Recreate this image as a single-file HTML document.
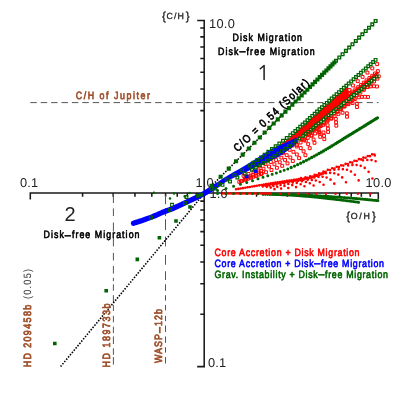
<!DOCTYPE html>
<html><head><meta charset="utf-8"><title>C/H vs O/H</title>
<style>
html,body{margin:0;padding:0;background:#fff;}
body{width:415px;height:415px;overflow:hidden;font-family:"Liberation Sans",sans-serif;}
svg{display:block;font-family:"Liberation Sans",sans-serif;will-change:transform;text-rendering:geometricPrecision;}
</style></head><body>
<svg width="415" height="415" viewBox="0 0 415 415">
<rect width="415" height="415" fill="#fff"/>
<path d="M30.3 199.6V192.9H378.3V199.6M197.2 20.4H204.2V366.6H197.2M82.58 192.9v3.9M204.2 314.19h-3.9M113.22 192.9v3.9M204.2 283.71h-3.9M134.96 192.9v3.9M204.2 262.08h-3.9M151.82 192.9v3.9M204.2 245.31h-3.9M165.6 192.9v3.9M204.2 231.6h-3.9M177.25 192.9v3.9M204.2 220.01h-3.9M187.34 192.9v3.9M204.2 209.98h-3.9M196.24 192.9v3.9M204.2 201.12h-3.9M256.58 192.9v3.9M204.2 141.09h-3.9M287.22 192.9v3.9M204.2 110.61h-3.9M308.96 192.9v3.9M204.2 88.98h-3.9M325.82 192.9v3.9M204.2 72.21h-3.9M339.6 192.9v3.9M204.2 58.5h-3.9M351.25 192.9v3.9M204.2 46.91h-3.9M361.34 192.9v3.9M204.2 36.88h-3.9M370.24 192.9v3.9M204.2 28.02h-3.9M204.2 192.9v7M204.2 193.3h-7" fill="none" stroke="#1a1a1a" stroke-width="1.55"/>
<text x="29" y="187" font-size="12.8" fill="#222" text-anchor="middle" textLength="18" lengthAdjust="spacing" >0.1</text>
<text x="204.5" y="187" font-size="12.8" fill="#222" text-anchor="middle" textLength="18" lengthAdjust="spacing" >1.0</text>
<text x="378.5" y="187" font-size="12.8" fill="#222" text-anchor="middle" textLength="25.8" lengthAdjust="spacing" >10.0</text>
<text x="209" y="28.3" font-size="12.8" fill="#222" textLength="25.8" lengthAdjust="spacing" >10.0</text>
<text x="209.5" y="197.5" font-size="12.8" fill="#222" textLength="18" lengthAdjust="spacing" >1.0</text>
<text x="208" y="367" font-size="12.8" fill="#222" textLength="18" lengthAdjust="spacing" >0.1</text>
<text x="162" y="20.3" font-size="11.6" fill="#222" stroke="#222" stroke-width="0.3">{<tspan font-size="8.8" dy="-0.9" dx="0.6" textLength="17.5" lengthAdjust="spacing">C/H</tspan><tspan dy="0.9" dx="0.6">}</tspan></text>
<text x="346.3" y="220.0" font-size="11.6" fill="#222" stroke="#222" stroke-width="0.3">{<tspan font-size="8.8" dy="-0.9" dx="0.6" textLength="19" lengthAdjust="spacing">O/H</tspan><tspan dy="0.9" dx="0.6">}</tspan></text>
<path d="M30.3 102.6H36.8M40.7 102.6H47.2M51.1 102.6H57.6M61.5 102.6H68M71.9 102.6H78.4M82.3 102.6H88.8M92.7 102.6H99.2M103.1 102.6H109.6M113.5 102.6H120M123.9 102.6H130.4M134.3 102.6H140.8M144.7 102.6H151.2M155.1 102.6H161.6M165.5 102.6H172M175.9 102.6H182.4M186.3 102.6H192.8M196.7 102.6H203.2M204 102.6H210.2M215.2 102.6H221.4M226.2 102.6H232.4M237 102.6H243.2M247.7 102.6H253.9M258 102.6H264.2M268.2 102.6H274.4M278.4 102.6H284.6M288.2 102.6H294.4M297.8 102.6H304M307.3 102.6H313.5M317.2 102.6H323.4M327 102.6H333.2M336.8 102.6H343M346.5 102.6H352.7M356.2 102.6H362.4M366.7 102.6H372.9M376.8 102.6H378.5" stroke="#555" stroke-width="1" fill="none"/>
<path d="M113.4 193.9V203M113.4 208.4V216M113.4 222.5V231.6M113.4 238V246.4M113.4 252.9V260.5M113.4 265.9V273.5M113.4 277.8V281M113.4 284.3V290.8M113.4 295.2V302.8M113.4 304.9V311M113.4 315.8V322.3M113.4 326.6V333.1M113.4 336.4V344M113.4 348.3V354.8M113.4 357V364.6" stroke="#555" stroke-width="1" fill="none"/>
<path d="M165.5 195.4V204.1M165.5 208V216M165.5 219.3V230.1M165.5 236.6V246.4M165.5 255V264.8M165.5 271.3V280M165.5 284.3V290.8M165.5 295.2V300.6M165.5 304.9V310.4M165.5 315.8V321.2M165.5 325.5V332M165.5 336.4V342.9M165.5 347.2V352.6M165.5 357V363.5" stroke="#555" stroke-width="1" fill="none"/>
<path d="M60.6 366.6L204.5 193" fill="none" stroke="#000000" stroke-width="1.6" stroke-dasharray="1.5 1.45"/>
<path d="M204.5 193L300 97" fill="none" stroke="#000000" stroke-width="1.6" stroke-dasharray="1.5 1.45"/>
<path d="M234.7 189.3a1.3 1.3 0 1 0 2.6 0a1.3 1.3 0 1 0 -2.6 0zM237.02 188.9a1.3 1.3 0 1 0 2.6 0a1.3 1.3 0 1 0 -2.6 0zM239.33 188.51a1.3 1.3 0 1 0 2.6 0a1.3 1.3 0 1 0 -2.6 0zM241.65 188.11a1.3 1.3 0 1 0 2.6 0a1.3 1.3 0 1 0 -2.6 0zM243.97 187.72a1.3 1.3 0 1 0 2.6 0a1.3 1.3 0 1 0 -2.6 0zM246.28 187.32a1.3 1.3 0 1 0 2.6 0a1.3 1.3 0 1 0 -2.6 0zM248.6 186.93a1.3 1.3 0 1 0 2.6 0a1.3 1.3 0 1 0 -2.6 0zM250.92 186.53a1.3 1.3 0 1 0 2.6 0a1.3 1.3 0 1 0 -2.6 0zM253.23 186.14a1.3 1.3 0 1 0 2.6 0a1.3 1.3 0 1 0 -2.6 0zM255.55 185.74a1.3 1.3 0 1 0 2.6 0a1.3 1.3 0 1 0 -2.6 0zM257.87 185.35a1.3 1.3 0 1 0 2.6 0a1.3 1.3 0 1 0 -2.6 0zM260.18 184.95a1.3 1.3 0 1 0 2.6 0a1.3 1.3 0 1 0 -2.6 0zM262.5 184.56a1.3 1.3 0 1 0 2.6 0a1.3 1.3 0 1 0 -2.6 0zM264.81 184.16a1.3 1.3 0 1 0 2.6 0a1.3 1.3 0 1 0 -2.6 0zM267.13 183.77a1.3 1.3 0 1 0 2.6 0a1.3 1.3 0 1 0 -2.6 0zM269.45 183.37a1.3 1.3 0 1 0 2.6 0a1.3 1.3 0 1 0 -2.6 0zM271.77 182.99a1.3 1.3 0 1 0 2.6 0a1.3 1.3 0 1 0 -2.6 0zM274.09 182.63a1.3 1.3 0 1 0 2.6 0a1.3 1.3 0 1 0 -2.6 0zM276.41 182.27a1.3 1.3 0 1 0 2.6 0a1.3 1.3 0 1 0 -2.6 0zM278.74 181.93a1.3 1.3 0 1 0 2.6 0a1.3 1.3 0 1 0 -2.6 0zM281.06 181.58a1.3 1.3 0 1 0 2.6 0a1.3 1.3 0 1 0 -2.6 0zM283.39 181.24a1.3 1.3 0 1 0 2.6 0a1.3 1.3 0 1 0 -2.6 0zM285.71 180.9a1.3 1.3 0 1 0 2.6 0a1.3 1.3 0 1 0 -2.6 0zM288.03 180.55a1.3 1.3 0 1 0 2.6 0a1.3 1.3 0 1 0 -2.6 0zM290.36 180.2a1.3 1.3 0 1 0 2.6 0a1.3 1.3 0 1 0 -2.6 0zM292.68 179.83a1.3 1.3 0 1 0 2.6 0a1.3 1.3 0 1 0 -2.6 0zM295 179.45a1.3 1.3 0 1 0 2.6 0a1.3 1.3 0 1 0 -2.6 0zM297.31 179.05a1.3 1.3 0 1 0 2.6 0a1.3 1.3 0 1 0 -2.6 0zM299.63 178.17a1.3 1.3 0 1 0 2.6 0a1.3 1.3 0 1 0 -2.6 0zM301.93 178.73a1.3 1.3 0 1 0 2.6 0a1.3 1.3 0 1 0 -2.6 0zM304.23 177.26a1.3 1.3 0 1 0 2.6 0a1.3 1.3 0 1 0 -2.6 0zM306.53 177.76a1.3 1.3 0 1 0 2.6 0a1.3 1.3 0 1 0 -2.6 0zM308.82 176.22a1.3 1.3 0 1 0 2.6 0a1.3 1.3 0 1 0 -2.6 0zM311.09 176.61a1.3 1.3 0 1 0 2.6 0a1.3 1.3 0 1 0 -2.6 0zM313.33 174.9a1.3 1.3 0 1 0 2.6 0a1.3 1.3 0 1 0 -2.6 0zM315.54 175.12a1.3 1.3 0 1 0 2.6 0a1.3 1.3 0 1 0 -2.6 0zM317.74 173.29a1.3 1.3 0 1 0 2.6 0a1.3 1.3 0 1 0 -2.6 0zM319.93 173.43a1.3 1.3 0 1 0 2.6 0a1.3 1.3 0 1 0 -2.6 0zM322.11 171.55a1.3 1.3 0 1 0 2.6 0a1.3 1.3 0 1 0 -2.6 0zM324.3 171.69a1.3 1.3 0 1 0 2.6 0a1.3 1.3 0 1 0 -2.6 0zM326.49 169.85a1.3 1.3 0 1 0 2.6 0a1.3 1.3 0 1 0 -2.6 0zM328.7 170.05a1.3 1.3 0 1 0 2.6 0a1.3 1.3 0 1 0 -2.6 0zM330.92 168.29a1.3 1.3 0 1 0 2.6 0a1.3 1.3 0 1 0 -2.6 0zM333.15 168.55a1.3 1.3 0 1 0 2.6 0a1.3 1.3 0 1 0 -2.6 0zM335.39 166.81a1.3 1.3 0 1 0 2.6 0a1.3 1.3 0 1 0 -2.6 0zM337.62 167.08a1.3 1.3 0 1 0 2.6 0a1.3 1.3 0 1 0 -2.6 0zM339.85 165.35a1.3 1.3 0 1 0 2.6 0a1.3 1.3 0 1 0 -2.6 0zM342.08 165.6a1.3 1.3 0 1 0 2.6 0a1.3 1.3 0 1 0 -2.6 0zM344.3 163.84a1.3 1.3 0 1 0 2.6 0a1.3 1.3 0 1 0 -2.6 0zM346.52 164.07a1.3 1.3 0 1 0 2.6 0a1.3 1.3 0 1 0 -2.6 0zM348.74 162.3a1.3 1.3 0 1 0 2.6 0a1.3 1.3 0 1 0 -2.6 0zM350.96 162.53a1.3 1.3 0 1 0 2.6 0a1.3 1.3 0 1 0 -2.6 0zM353.18 160.75a1.3 1.3 0 1 0 2.6 0a1.3 1.3 0 1 0 -2.6 0zM355.39 160.96a1.3 1.3 0 1 0 2.6 0a1.3 1.3 0 1 0 -2.6 0zM357.61 159.17a1.3 1.3 0 1 0 2.6 0a1.3 1.3 0 1 0 -2.6 0zM359.82 159.38a1.3 1.3 0 1 0 2.6 0a1.3 1.3 0 1 0 -2.6 0zM362.03 157.58a1.3 1.3 0 1 0 2.6 0a1.3 1.3 0 1 0 -2.6 0zM364.24 157.78a1.3 1.3 0 1 0 2.6 0a1.3 1.3 0 1 0 -2.6 0zM366.45 155.97a1.3 1.3 0 1 0 2.6 0a1.3 1.3 0 1 0 -2.6 0zM368.65 156.16a1.3 1.3 0 1 0 2.6 0a1.3 1.3 0 1 0 -2.6 0zM370.86 154.34a1.3 1.3 0 1 0 2.6 0a1.3 1.3 0 1 0 -2.6 0zM373.06 154.52a1.3 1.3 0 1 0 2.6 0a1.3 1.3 0 1 0 -2.6 0zM261.82 185.76a1.3 1.3 0 1 0 2.6 0a1.3 1.3 0 1 0 -2.6 0zM263.99 185.39a1.3 1.3 0 1 0 2.6 0a1.3 1.3 0 1 0 -2.6 0zM266.16 185.02a1.3 1.3 0 1 0 2.6 0a1.3 1.3 0 1 0 -2.6 0zM268.33 184.65a1.3 1.3 0 1 0 2.6 0a1.3 1.3 0 1 0 -2.6 0zM270.5 184.28a1.3 1.3 0 1 0 2.6 0a1.3 1.3 0 1 0 -2.6 0zM272.67 183.92a1.3 1.3 0 1 0 2.6 0a1.3 1.3 0 1 0 -2.6 0zM274.84 183.58a1.3 1.3 0 1 0 2.6 0a1.3 1.3 0 1 0 -2.6 0zM277.02 183.25a1.3 1.3 0 1 0 2.6 0a1.3 1.3 0 1 0 -2.6 0zM279.19 182.92a1.3 1.3 0 1 0 2.6 0a1.3 1.3 0 1 0 -2.6 0zM281.37 182.6a1.3 1.3 0 1 0 2.6 0a1.3 1.3 0 1 0 -2.6 0zM283.55 182.28a1.3 1.3 0 1 0 2.6 0a1.3 1.3 0 1 0 -2.6 0zM285.72 181.96a1.3 1.3 0 1 0 2.6 0a1.3 1.3 0 1 0 -2.6 0zM287.9 181.64a1.3 1.3 0 1 0 2.6 0a1.3 1.3 0 1 0 -2.6 0zM290.07 181.31a1.3 1.3 0 1 0 2.6 0a1.3 1.3 0 1 0 -2.6 0zM292.25 180.97a1.3 1.3 0 1 0 2.6 0a1.3 1.3 0 1 0 -2.6 0zM294.42 180.62a1.3 1.3 0 1 0 2.6 0a1.3 1.3 0 1 0 -2.6 0zM296.59 180.26a1.3 1.3 0 1 0 2.6 0a1.3 1.3 0 1 0 -2.6 0zM298.76 179.88a1.3 1.3 0 1 0 2.6 0a1.3 1.3 0 1 0 -2.6 0zM300.92 179.49a1.3 1.3 0 1 0 2.6 0a1.3 1.3 0 1 0 -2.6 0zM303.08 179.07a1.3 1.3 0 1 0 2.6 0a1.3 1.3 0 1 0 -2.6 0zM305.24 178.63a1.3 1.3 0 1 0 2.6 0a1.3 1.3 0 1 0 -2.6 0zM307.39 178.16a1.3 1.3 0 1 0 2.6 0a1.3 1.3 0 1 0 -2.6 0zM309.53 177.66a1.3 1.3 0 1 0 2.6 0a1.3 1.3 0 1 0 -2.6 0zM311.66 177.11a1.3 1.3 0 1 0 2.6 0a1.3 1.3 0 1 0 -2.6 0zM313.76 176.47a1.3 1.3 0 1 0 2.6 0a1.3 1.3 0 1 0 -2.6 0zM315.84 175.76a1.3 1.3 0 1 0 2.6 0a1.3 1.3 0 1 0 -2.6 0zM317.91 175a1.3 1.3 0 1 0 2.6 0a1.3 1.3 0 1 0 -2.6 0zM319.96 174.2a1.3 1.3 0 1 0 2.6 0a1.3 1.3 0 1 0 -2.6 0zM322 173.39a1.3 1.3 0 1 0 2.6 0a1.3 1.3 0 1 0 -2.6 0zM324.05 172.57a1.3 1.3 0 1 0 2.6 0a1.3 1.3 0 1 0 -2.6 0zM273.2 189.16a1.3 1.3 0 1 0 2.6 0a1.3 1.3 0 1 0 -2.6 0zM269.4 187.6a1.3 1.3 0 1 0 2.6 0a1.3 1.3 0 1 0 -2.6 0zM265.5 186.83a1.3 1.3 0 1 0 2.6 0a1.3 1.3 0 1 0 -2.6 0zM261.5 186.56a1.3 1.3 0 1 0 2.6 0a1.3 1.3 0 1 0 -2.6 0zM279.8 188.59a1.3 1.3 0 1 0 2.6 0a1.3 1.3 0 1 0 -2.6 0zM276 186.84a1.3 1.3 0 1 0 2.6 0a1.3 1.3 0 1 0 -2.6 0zM272.1 185.91a1.3 1.3 0 1 0 2.6 0a1.3 1.3 0 1 0 -2.6 0zM268.1 185.56a1.3 1.3 0 1 0 2.6 0a1.3 1.3 0 1 0 -2.6 0zM286.96 187.97a1.3 1.3 0 1 0 2.6 0a1.3 1.3 0 1 0 -2.6 0zM283.16 186.07a1.3 1.3 0 1 0 2.6 0a1.3 1.3 0 1 0 -2.6 0zM279.26 185.01a1.3 1.3 0 1 0 2.6 0a1.3 1.3 0 1 0 -2.6 0zM275.26 184.53a1.3 1.3 0 1 0 2.6 0a1.3 1.3 0 1 0 -2.6 0zM294.73 187.09a1.3 1.3 0 1 0 2.6 0a1.3 1.3 0 1 0 -2.6 0zM290.93 185.12a1.3 1.3 0 1 0 2.6 0a1.3 1.3 0 1 0 -2.6 0zM287.03 184.01a1.3 1.3 0 1 0 2.6 0a1.3 1.3 0 1 0 -2.6 0zM283.03 183.48a1.3 1.3 0 1 0 2.6 0a1.3 1.3 0 1 0 -2.6 0zM303.16 186.27a1.3 1.3 0 1 0 2.6 0a1.3 1.3 0 1 0 -2.6 0zM299.36 184.18a1.3 1.3 0 1 0 2.6 0a1.3 1.3 0 1 0 -2.6 0zM295.46 183a1.3 1.3 0 1 0 2.6 0a1.3 1.3 0 1 0 -2.6 0zM291.46 182.42a1.3 1.3 0 1 0 2.6 0a1.3 1.3 0 1 0 -2.6 0zM312.31 185.55a1.3 1.3 0 1 0 2.6 0a1.3 1.3 0 1 0 -2.6 0zM308.51 183.26a1.3 1.3 0 1 0 2.6 0a1.3 1.3 0 1 0 -2.6 0zM304.61 181.93a1.3 1.3 0 1 0 2.6 0a1.3 1.3 0 1 0 -2.6 0zM300.61 181.28a1.3 1.3 0 1 0 2.6 0a1.3 1.3 0 1 0 -2.6 0zM296.51 181.06a1.3 1.3 0 1 0 2.6 0a1.3 1.3 0 1 0 -2.6 0zM322.23 184.77a1.3 1.3 0 1 0 2.6 0a1.3 1.3 0 1 0 -2.6 0zM318.43 181.93a1.3 1.3 0 1 0 2.6 0a1.3 1.3 0 1 0 -2.6 0zM314.53 180.52a1.3 1.3 0 1 0 2.6 0a1.3 1.3 0 1 0 -2.6 0zM310.53 179.9a1.3 1.3 0 1 0 2.6 0a1.3 1.3 0 1 0 -2.6 0zM306.43 179.66a1.3 1.3 0 1 0 2.6 0a1.3 1.3 0 1 0 -2.6 0zM302.23 179.72a1.3 1.3 0 1 0 2.6 0a1.3 1.3 0 1 0 -2.6 0zM333 183.66a1.3 1.3 0 1 0 2.6 0a1.3 1.3 0 1 0 -2.6 0zM329.2 179.63a1.3 1.3 0 1 0 2.6 0a1.3 1.3 0 1 0 -2.6 0zM325.3 177.55a1.3 1.3 0 1 0 2.6 0a1.3 1.3 0 1 0 -2.6 0zM321.3 176.82a1.3 1.3 0 1 0 2.6 0a1.3 1.3 0 1 0 -2.6 0zM317.2 176.91a1.3 1.3 0 1 0 2.6 0a1.3 1.3 0 1 0 -2.6 0zM313 177.41a1.3 1.3 0 1 0 2.6 0a1.3 1.3 0 1 0 -2.6 0zM344.68 182.23a1.3 1.3 0 1 0 2.6 0a1.3 1.3 0 1 0 -2.6 0zM340.88 177.38a1.3 1.3 0 1 0 2.6 0a1.3 1.3 0 1 0 -2.6 0zM336.98 174.61a1.3 1.3 0 1 0 2.6 0a1.3 1.3 0 1 0 -2.6 0zM332.98 173.25a1.3 1.3 0 1 0 2.6 0a1.3 1.3 0 1 0 -2.6 0zM328.88 172.87a1.3 1.3 0 1 0 2.6 0a1.3 1.3 0 1 0 -2.6 0zM324.68 173.25a1.3 1.3 0 1 0 2.6 0a1.3 1.3 0 1 0 -2.6 0zM357.36 180.4a1.3 1.3 0 1 0 2.6 0a1.3 1.3 0 1 0 -2.6 0zM353.56 174.71a1.3 1.3 0 1 0 2.6 0a1.3 1.3 0 1 0 -2.6 0zM349.66 171.44a1.3 1.3 0 1 0 2.6 0a1.3 1.3 0 1 0 -2.6 0zM345.66 169.77a1.3 1.3 0 1 0 2.6 0a1.3 1.3 0 1 0 -2.6 0zM341.56 169.15a1.3 1.3 0 1 0 2.6 0a1.3 1.3 0 1 0 -2.6 0zM337.36 169.21a1.3 1.3 0 1 0 2.6 0a1.3 1.3 0 1 0 -2.6 0zM333.06 169.74a1.3 1.3 0 1 0 2.6 0a1.3 1.3 0 1 0 -2.6 0zM371.11 178.54a1.3 1.3 0 1 0 2.6 0a1.3 1.3 0 1 0 -2.6 0zM367.31 171.84a1.3 1.3 0 1 0 2.6 0a1.3 1.3 0 1 0 -2.6 0zM363.41 167.92a1.3 1.3 0 1 0 2.6 0a1.3 1.3 0 1 0 -2.6 0zM359.41 165.83a1.3 1.3 0 1 0 2.6 0a1.3 1.3 0 1 0 -2.6 0zM355.31 164.97a1.3 1.3 0 1 0 2.6 0a1.3 1.3 0 1 0 -2.6 0zM351.11 164.91a1.3 1.3 0 1 0 2.6 0a1.3 1.3 0 1 0 -2.6 0zM346.81 165.39a1.3 1.3 0 1 0 2.6 0a1.3 1.3 0 1 0 -2.6 0zM374.33 161.22a1.3 1.3 0 1 0 2.6 0a1.3 1.3 0 1 0 -2.6 0zM370.23 160.12a1.3 1.3 0 1 0 2.6 0a1.3 1.3 0 1 0 -2.6 0zM366.03 159.94a1.3 1.3 0 1 0 2.6 0a1.3 1.3 0 1 0 -2.6 0zM361.73 160.36a1.3 1.3 0 1 0 2.6 0a1.3 1.3 0 1 0 -2.6 0zM373.53 155.44a1.3 1.3 0 1 0 2.6 0a1.3 1.3 0 1 0 -2.6 0z" fill="#ff0000"/>
<path d="M266 155.28L268.1 153.69L270.21 152.1L272.31 150.51L274.41 148.92L276.51 147.33L278.62 145.76L280.72 144.21L282.82 142.7L284.92 141.18L287.03 139.58L289.13 137.91L291.23 136.19L293.33 134.43L295.44 132.63L297.54 130.8L299.64 128.95L301.74 127.08L303.85 125.19L305.95 123.28L308.05 121.37L310.15 119.46L312.26 117.55L314.36 115.64L316.46 113.75L318.56 111.87L320.67 110.01L322.77 108.16L324.87 106.3L326.97 104.45L329.08 102.59L331.18 100.73L333.28 98.87L335.38 97.01L337.49 95.15L339.59 93.29L341.69 91.43L343.79 89.58L345.9 87.72L348 85.86L348 98.84L345.9 100.51L343.79 102.18L341.69 103.85L339.59 105.53L337.49 107.21L335.38 108.9L333.28 110.59L331.18 112.28L329.08 113.97L326.97 115.67L324.87 117.36L322.77 119.06L320.67 120.75L318.56 122.45L316.46 124.14L314.36 125.86L312.26 127.58L310.15 129.31L308.05 131.02L305.95 132.71L303.85 134.37L301.74 136L299.64 137.58L297.54 139.14L295.44 140.67L293.33 142.19L291.23 143.7L289.13 145.2L287.03 146.7L284.92 148.18L282.82 149.62L280.72 151.01L278.62 152.37L276.51 153.7L274.41 155.03L272.31 156.36L270.21 157.7L268.1 159.04L266 160.38z" fill="#ff0000"/>
<path d="M340 102.9L342.53 100.88L345.07 98.87L347.6 96.86L350.13 94.86L352.67 92.85L355.2 90.84L357.73 88.83L360.27 86.8L362.8 84.76L365.33 82.7L367.87 80.64L370.4 78.56L372.93 76.48L375.47 74.38L378 72.28" fill="none" stroke="#ff0000" stroke-width="2.6" />
<path d="M298.55 130.6h2.9v2.9h-2.9zM301.15 128.44h2.9v2.9h-2.9zM303.75 126.23h2.9v2.9h-2.9zM306.35 123.99h2.9v2.9h-2.9zM308.95 121.74h2.9v2.9h-2.9zM311.55 119.48h2.9v2.9h-2.9zM314.15 117.23h2.9v2.9h-2.9zM316.75 115h2.9v2.9h-2.9zM319.35 112.8h2.9v2.9h-2.9zM321.95 110.59h2.9v2.9h-2.9zM324.55 108.39h2.9v2.9h-2.9zM327.15 106.18h2.9v2.9h-2.9zM329.75 103.98h2.9v2.9h-2.9zM332.35 101.77h2.9v2.9h-2.9zM334.95 99.57h2.9v2.9h-2.9zM337.55 97.36h2.9v2.9h-2.9zM340.15 95.16h2.9v2.9h-2.9zM342.75 92.97h2.9v2.9h-2.9zM345.35 90.78h2.9v2.9h-2.9zM347.95 88.59h2.9v2.9h-2.9zM351.45 83.99h2.9v2.9h-2.9zM356.3 79.72h2.9v2.9h-2.9zM361.15 75.45h2.9v2.9h-2.9zM366 71.18h2.9v2.9h-2.9zM370.85 66.92h2.9v2.9h-2.9zM375.7 62.66h2.9v2.9h-2.9zM345.55 94.59h2.9v2.9h-2.9zM348.35 92.37h2.9v2.9h-2.9zM351.15 90.15h2.9v2.9h-2.9zM353.95 87.93h2.9v2.9h-2.9zM356.75 85.7h2.9v2.9h-2.9zM359.55 83.46h2.9v2.9h-2.9zM362.35 81.2h2.9v2.9h-2.9zM365.15 78.92h2.9v2.9h-2.9zM367.95 76.63h2.9v2.9h-2.9zM370.75 74.33h2.9v2.9h-2.9zM373.55 72.02h2.9v2.9h-2.9zM376.35 69.7h2.9v2.9h-2.9zM338.55 107.35h2.9v2.9h-2.9zM341.95 104.64h2.9v2.9h-2.9zM345.35 101.94h2.9v2.9h-2.9zM348.75 99.25h2.9v2.9h-2.9zM352.15 96.56h2.9v2.9h-2.9zM355.55 93.86h2.9v2.9h-2.9zM358.95 91.14h2.9v2.9h-2.9zM362.35 88.4h2.9v2.9h-2.9zM365.75 85.63h2.9v2.9h-2.9zM369.15 82.85h2.9v2.9h-2.9zM372.55 80.05h2.9v2.9h-2.9zM375.95 77.23h2.9v2.9h-2.9zM239.55 179.75h2.9v2.9h-2.9zM244.55 177.85h2.9v2.9h-2.9zM242.08 174.33h2.9v2.9h-2.9zM249.55 176.05h2.9v2.9h-2.9zM247.08 172.53h2.9v2.9h-2.9zM254.55 174.25h2.9v2.9h-2.9zM252.08 170.73h2.9v2.9h-2.9zM259.55 172.55h2.9v2.9h-2.9zM257.08 169.03h2.9v2.9h-2.9zM264.55 170.75h2.9v2.9h-2.9zM262.08 167.23h2.9v2.9h-2.9zM258.44 164.95h2.9v2.9h-2.9zM270.05 168.55h2.9v2.9h-2.9zM267.58 165.03h2.9v2.9h-2.9zM263.94 162.75h2.9v2.9h-2.9zM275.45 166.35h2.9v2.9h-2.9zM272.98 162.83h2.9v2.9h-2.9zM269.34 160.55h2.9v2.9h-2.9zM280.75 164.35h2.9v2.9h-2.9zM278.28 160.83h2.9v2.9h-2.9zM274.64 158.55h2.9v2.9h-2.9zM286.05 161.95h2.9v2.9h-2.9zM283.58 158.43h2.9v2.9h-2.9zM279.94 156.15h2.9v2.9h-2.9zM276.25 153.93h2.9v2.9h-2.9zM291.35 159.55h2.9v2.9h-2.9zM288.88 156.03h2.9v2.9h-2.9zM285.24 153.75h2.9v2.9h-2.9zM281.55 151.53h2.9v2.9h-2.9zM297.65 156.65h2.9v2.9h-2.9zM295.39 152.99h2.9v2.9h-2.9zM291.97 150.38h2.9v2.9h-2.9zM288.18 148.35h2.9v2.9h-2.9zM303.95 153.75h2.9v2.9h-2.9zM302.13 149.85h2.9v2.9h-2.9zM299.27 146.64h2.9v2.9h-2.9zM295.3 144.99h2.9v2.9h-2.9zM291.12 144h2.9v2.9h-2.9zM308.25 146.75h2.9v2.9h-2.9zM306.75 142.72h2.9v2.9h-2.9zM304.33 139.17h2.9v2.9h-2.9zM300.26 137.79h2.9v2.9h-2.9zM313.05 141.35h2.9v2.9h-2.9zM312.15 138.07h2.9v2.9h-2.9zM310.27 134.2h2.9v2.9h-2.9zM306.11 133.14h2.9v2.9h-2.9zM318.75 135.35h2.9v2.9h-2.9zM318.21 131.99h2.9v2.9h-2.9zM317.27 128.73h2.9v2.9h-2.9zM313.02 128.04h2.9v2.9h-2.9zM322.85 137.75h2.9v2.9h-2.9zM322.56 134.36h2.9v2.9h-2.9zM322.04 131h2.9v2.9h-2.9zM317.76 130.59h2.9v2.9h-2.9zM313.72 132.06h2.9v2.9h-2.9zM309.94 134.11h2.9v2.9h-2.9zM306.3 136.41h2.9v2.9h-2.9zM302.7 138.76h2.9v2.9h-2.9zM299.1 141.11h2.9v2.9h-2.9zM295.51 143.47h2.9v2.9h-2.9zM326.65 130.55h2.9v2.9h-2.9zM326.47 127.15h2.9v2.9h-2.9zM326.12 123.77h2.9v2.9h-2.9zM321.83 123.47h2.9v2.9h-2.9zM317.87 125.15h2.9v2.9h-2.9zM314.22 127.43h2.9v2.9h-2.9zM310.74 129.96h2.9v2.9h-2.9zM307.31 132.55h2.9v2.9h-2.9zM303.88 135.14h2.9v2.9h-2.9zM300.44 137.72h2.9v2.9h-2.9zM334.85 124.25h2.9v2.9h-2.9zM334.67 120.85h2.9v2.9h-2.9zM334.32 117.47h2.9v2.9h-2.9zM330.03 117.17h2.9v2.9h-2.9zM326.07 118.85h2.9v2.9h-2.9zM322.42 121.13h2.9v2.9h-2.9zM318.94 123.66h2.9v2.9h-2.9zM315.51 126.25h2.9v2.9h-2.9zM312.08 128.84h2.9v2.9h-2.9zM308.64 131.42h2.9v2.9h-2.9zM345.55 115.25h2.9v2.9h-2.9zM345.37 111.85h2.9v2.9h-2.9zM341.11 111.26h2.9v2.9h-2.9zM336.98 112.44h2.9v2.9h-2.9zM333.18 114.46h2.9v2.9h-2.9zM329.62 116.86h2.9v2.9h-2.9zM326.14 119.39h2.9v2.9h-2.9zM322.71 121.98h2.9v2.9h-2.9zM319.27 124.57h2.9v2.9h-2.9zM315.84 127.16h2.9v2.9h-2.9zM355.55 105.55h2.9v2.9h-2.9zM355.37 102.15h2.9v2.9h-2.9zM351.11 101.56h2.9v2.9h-2.9zM346.98 102.74h2.9v2.9h-2.9zM343.18 104.76h2.9v2.9h-2.9zM339.62 107.16h2.9v2.9h-2.9zM336.14 109.69h2.9v2.9h-2.9zM332.71 112.28h2.9v2.9h-2.9zM329.27 114.87h2.9v2.9h-2.9zM325.84 117.46h2.9v2.9h-2.9zM366.55 95.55h2.9v2.9h-2.9zM363.46 95.33h2.9v2.9h-2.9zM360.36 95.44h2.9v2.9h-2.9zM357.29 95.87h2.9v2.9h-2.9zM353.36 97.62h2.9v2.9h-2.9zM349.8 100.03h2.9v2.9h-2.9zM346.32 102.55h2.9v2.9h-2.9zM342.88 105.14h2.9v2.9h-2.9zM339.45 107.73h2.9v2.9h-2.9zM336.02 110.32h2.9v2.9h-2.9zM375.55 85.05h2.9v2.9h-2.9zM372.46 84.83h2.9v2.9h-2.9zM369.36 84.94h2.9v2.9h-2.9zM366.29 85.37h2.9v2.9h-2.9zM362.36 87.12h2.9v2.9h-2.9zM377.29 74.87h2.9v2.9h-2.9zM237.85 180.35h2.9v2.9h-2.9zM240.68 179.36h2.9v2.9h-2.9zM243.51 178.35h2.9v2.9h-2.9zM246.33 177.33h2.9v2.9h-2.9zM249.14 176.3h2.9v2.9h-2.9zM251.96 175.25h2.9v2.9h-2.9zM254.76 174.19h2.9v2.9h-2.9zM257.56 173.11h2.9v2.9h-2.9zM260.36 172.02h2.9v2.9h-2.9zM243.35 177.05h2.9v2.9h-2.9zM246.11 175.88h2.9v2.9h-2.9zM248.86 174.68h2.9v2.9h-2.9zM251.6 173.45h2.9v2.9h-2.9zM254.32 172.19h2.9v2.9h-2.9zM257.03 170.9h2.9v2.9h-2.9zM259.72 169.57h2.9v2.9h-2.9z" fill="none" stroke="#ff0000" stroke-width="1"/>
<path d="M133.5 223.2L134.83 222.81L136.16 222.4L137.49 221.99L138.82 221.57L140.15 221.13L141.48 220.69L142.81 220.24L144.14 219.78L145.47 219.32L146.81 218.84L148.14 218.36L149.47 217.87L150.8 217.38L152.13 216.87L153.46 216.33L154.79 215.77L156.12 215.2L157.45 214.61L158.78 214.02L160.11 213.44L161.44 212.86L162.77 212.29L164.1 211.75L165.43 211.23L166.76 210.74L168.09 210.29L169.42 209.82L170.75 209.3L172.08 208.76L173.42 208.2L174.75 207.61L176.08 207.02L177.41 206.41L178.74 205.79L180.07 205.17L181.4 204.54L182.73 203.92L184.06 203.3L185.39 202.68L186.72 202.07L188.05 201.45L189.38 200.83L190.71 200.21L192.04 199.58L193.37 198.95L194.7 198.32L196.03 197.67L197.36 197.02L198.69 196.35L200.03 195.68L201.36 195L202.69 194.3L204.02 193.57L205.35 192.81L206.68 192.02L208.01 191.21L209.34 190.37L210.67 189.5L212 188.6" fill="none" stroke="#0000ff" stroke-width="5.3" stroke-linecap="round"/>
<path d="M204.5 190.6L206.38 189.33L208.26 188.06L210.13 186.81L212.01 185.56L213.89 184.33L215.77 183.1L217.64 181.88L219.52 180.65L221.4 179.44L223.28 178.24L225.15 177.05L227.03 175.89L228.91 174.75L230.79 173.66L232.66 172.6L234.54 171.56L236.42 170.53L238.3 169.48L240.17 168.4L242.05 167.29L243.93 166.17L245.81 165.03L247.68 163.88L249.56 162.72L251.44 161.56L253.32 160.39L255.19 159.22L257.07 158.05L258.95 156.88L260.83 155.72L262.7 154.56L264.58 153.35L266.46 152.11L268.34 150.87L270.21 149.67L272.09 148.54L273.97 147.51L275.85 146.62L277.72 145.85L279.6 145.16L281.48 144.47L283.36 143.72L285.23 142.88L287.11 141.98L288.99 141.08L290.87 140.2L292.74 139.33L294.62 138.46L296.5 137.6L297.5 141.5L295.6 144.2L293.7 146.27L291.81 147.75L289.91 149.07L288.01 150.46L286.11 151.84L284.21 153.16L282.32 154.4L280.42 155.6L278.52 156.75L276.62 157.83L274.72 158.84L272.83 159.77L270.93 160.63L269.03 161.46L267.13 162.25L265.23 163.04L263.34 163.83L261.44 164.65L259.54 165.51L257.64 166.4L255.74 167.31L253.85 168.23L251.95 169.16L250.05 170.09L248.15 171.03L246.26 171.97L244.36 172.9L242.46 173.82L240.56 174.73L238.66 175.62L236.77 176.46L234.87 177.28L232.97 178.13L231.07 179.02L229.17 180L227.28 181.12L225.38 182.37L223.48 183.71L221.58 185.11L219.68 186.53L217.79 187.91L215.89 189.22L213.99 190.44L212.09 191.61L210.19 192.75L208.3 193.87L206.4 194.95L204.5 196z" fill="#0000ff"/>
<path d="M253.7 169.3h3.8v3.8h-3.8zM244.7 174.5h3.8v3.8h-3.8z" fill="#0000ff"/>
<path d="M216.08 190.54a1.5 1.5 0 1 0 3 0a1.5 1.5 0 1 0 -3 0zM224.49 188.5a1.5 1.5 0 1 0 3 0a1.5 1.5 0 1 0 -3 0zM232.06 186.22a1.5 1.5 0 1 0 3 0a1.5 1.5 0 1 0 -3 0zM238.94 184.34a1.5 1.5 0 1 0 3 0a1.5 1.5 0 1 0 -3 0zM245.25 182.56a1.5 1.5 0 1 0 3 0a1.5 1.5 0 1 0 -3 0zM251.06 180.65a1.5 1.5 0 1 0 3 0a1.5 1.5 0 1 0 -3 0zM256.47 178.81a1.5 1.5 0 1 0 3 0a1.5 1.5 0 1 0 -3 0zM261.51 177.16a1.5 1.5 0 1 0 3 0a1.5 1.5 0 1 0 -3 0zM266.24 175.66a1.5 1.5 0 1 0 3 0a1.5 1.5 0 1 0 -3 0zM270.68 174.26a1.5 1.5 0 1 0 3 0a1.5 1.5 0 1 0 -3 0zM274.88 172.9a1.5 1.5 0 1 0 3 0a1.5 1.5 0 1 0 -3 0zM278.86 171.57a1.5 1.5 0 1 0 3 0a1.5 1.5 0 1 0 -3 0zM282.65 170.24a1.5 1.5 0 1 0 3 0a1.5 1.5 0 1 0 -3 0zM286.25 168.89a1.5 1.5 0 1 0 3 0a1.5 1.5 0 1 0 -3 0z" fill="#006400"/>
<path d="M289.53 167.52a1.65 1.65 0 1 0 3.3 0a1.65 1.65 0 1 0 -3.3 0zM292.82 166.1a1.65 1.65 0 1 0 3.3 0a1.65 1.65 0 1 0 -3.3 0zM295.97 164.66a1.65 1.65 0 1 0 3.3 0a1.65 1.65 0 1 0 -3.3 0zM298.99 163.2a1.65 1.65 0 1 0 3.3 0a1.65 1.65 0 1 0 -3.3 0zM301.9 161.75a1.65 1.65 0 1 0 3.3 0a1.65 1.65 0 1 0 -3.3 0zM304.7 160.31a1.65 1.65 0 1 0 3.3 0a1.65 1.65 0 1 0 -3.3 0zM307.4 158.89a1.65 1.65 0 1 0 3.3 0a1.65 1.65 0 1 0 -3.3 0zM310.01 157.5a1.65 1.65 0 1 0 3.3 0a1.65 1.65 0 1 0 -3.3 0zM312.53 156.13a1.65 1.65 0 1 0 3.3 0a1.65 1.65 0 1 0 -3.3 0zM314.97 154.8a1.65 1.65 0 1 0 3.3 0a1.65 1.65 0 1 0 -3.3 0zM317.33 153.51a1.65 1.65 0 1 0 3.3 0a1.65 1.65 0 1 0 -3.3 0zM319.62 152.24a1.65 1.65 0 1 0 3.3 0a1.65 1.65 0 1 0 -3.3 0zM321.84 150.98a1.65 1.65 0 1 0 3.3 0a1.65 1.65 0 1 0 -3.3 0zM324 149.72a1.65 1.65 0 1 0 3.3 0a1.65 1.65 0 1 0 -3.3 0zM326.1 148.47a1.65 1.65 0 1 0 3.3 0a1.65 1.65 0 1 0 -3.3 0zM328.14 147.24a1.65 1.65 0 1 0 3.3 0a1.65 1.65 0 1 0 -3.3 0zM330.13 146.03a1.65 1.65 0 1 0 3.3 0a1.65 1.65 0 1 0 -3.3 0zM332.07 144.84a1.65 1.65 0 1 0 3.3 0a1.65 1.65 0 1 0 -3.3 0zM333.96 143.67a1.65 1.65 0 1 0 3.3 0a1.65 1.65 0 1 0 -3.3 0zM335.8 142.53a1.65 1.65 0 1 0 3.3 0a1.65 1.65 0 1 0 -3.3 0zM337.6 141.41a1.65 1.65 0 1 0 3.3 0a1.65 1.65 0 1 0 -3.3 0zM339.36 140.32a1.65 1.65 0 1 0 3.3 0a1.65 1.65 0 1 0 -3.3 0zM341.08 139.25a1.65 1.65 0 1 0 3.3 0a1.65 1.65 0 1 0 -3.3 0zM342.76 138.21a1.65 1.65 0 1 0 3.3 0a1.65 1.65 0 1 0 -3.3 0zM344.4 137.19a1.65 1.65 0 1 0 3.3 0a1.65 1.65 0 1 0 -3.3 0zM346.01 136.21a1.65 1.65 0 1 0 3.3 0a1.65 1.65 0 1 0 -3.3 0zM347.58 135.25a1.65 1.65 0 1 0 3.3 0a1.65 1.65 0 1 0 -3.3 0zM349.13 134.3a1.65 1.65 0 1 0 3.3 0a1.65 1.65 0 1 0 -3.3 0zM350.64 133.38a1.65 1.65 0 1 0 3.3 0a1.65 1.65 0 1 0 -3.3 0zM352.12 132.47a1.65 1.65 0 1 0 3.3 0a1.65 1.65 0 1 0 -3.3 0zM353.57 131.58a1.65 1.65 0 1 0 3.3 0a1.65 1.65 0 1 0 -3.3 0zM355 130.71a1.65 1.65 0 1 0 3.3 0a1.65 1.65 0 1 0 -3.3 0zM356.4 129.85a1.65 1.65 0 1 0 3.3 0a1.65 1.65 0 1 0 -3.3 0zM357.77 129a1.65 1.65 0 1 0 3.3 0a1.65 1.65 0 1 0 -3.3 0zM359.12 128.17a1.65 1.65 0 1 0 3.3 0a1.65 1.65 0 1 0 -3.3 0zM360.45 127.36a1.65 1.65 0 1 0 3.3 0a1.65 1.65 0 1 0 -3.3 0zM361.75 126.55a1.65 1.65 0 1 0 3.3 0a1.65 1.65 0 1 0 -3.3 0zM363.03 125.76a1.65 1.65 0 1 0 3.3 0a1.65 1.65 0 1 0 -3.3 0zM364.29 124.98a1.65 1.65 0 1 0 3.3 0a1.65 1.65 0 1 0 -3.3 0zM365.53 124.22a1.65 1.65 0 1 0 3.3 0a1.65 1.65 0 1 0 -3.3 0zM366.75 123.46a1.65 1.65 0 1 0 3.3 0a1.65 1.65 0 1 0 -3.3 0zM367.95 122.72a1.65 1.65 0 1 0 3.3 0a1.65 1.65 0 1 0 -3.3 0zM369.13 121.99a1.65 1.65 0 1 0 3.3 0a1.65 1.65 0 1 0 -3.3 0zM370.29 121.27a1.65 1.65 0 1 0 3.3 0a1.65 1.65 0 1 0 -3.3 0zM371.44 120.56a1.65 1.65 0 1 0 3.3 0a1.65 1.65 0 1 0 -3.3 0zM372.57 119.85a1.65 1.65 0 1 0 3.3 0a1.65 1.65 0 1 0 -3.3 0zM373.68 119.16a1.65 1.65 0 1 0 3.3 0a1.65 1.65 0 1 0 -3.3 0zM374.77 118.48a1.65 1.65 0 1 0 3.3 0a1.65 1.65 0 1 0 -3.3 0zM375.85 117.81a1.65 1.65 0 1 0 3.3 0a1.65 1.65 0 1 0 -3.3 0z" fill="#006400"/>
<path d="M261.66 194.39a1.35 1.35 0 1 0 2.7 0a1.35 1.35 0 1 0 -2.7 0zM264.06 194.43a1.35 1.35 0 1 0 2.7 0a1.35 1.35 0 1 0 -2.7 0zM266.39 194.48a1.35 1.35 0 1 0 2.7 0a1.35 1.35 0 1 0 -2.7 0zM268.64 194.53a1.35 1.35 0 1 0 2.7 0a1.35 1.35 0 1 0 -2.7 0zM270.83 194.58a1.35 1.35 0 1 0 2.7 0a1.35 1.35 0 1 0 -2.7 0zM272.96 194.63a1.35 1.35 0 1 0 2.7 0a1.35 1.35 0 1 0 -2.7 0zM275.03 194.69a1.35 1.35 0 1 0 2.7 0a1.35 1.35 0 1 0 -2.7 0zM277.05 194.75a1.35 1.35 0 1 0 2.7 0a1.35 1.35 0 1 0 -2.7 0zM279.01 194.81a1.35 1.35 0 1 0 2.7 0a1.35 1.35 0 1 0 -2.7 0zM280.93 194.88a1.35 1.35 0 1 0 2.7 0a1.35 1.35 0 1 0 -2.7 0zM282.8 194.96a1.35 1.35 0 1 0 2.7 0a1.35 1.35 0 1 0 -2.7 0zM284.62 195.04a1.35 1.35 0 1 0 2.7 0a1.35 1.35 0 1 0 -2.7 0zM286.4 195.13a1.35 1.35 0 1 0 2.7 0a1.35 1.35 0 1 0 -2.7 0zM288.13 195.23a1.35 1.35 0 1 0 2.7 0a1.35 1.35 0 1 0 -2.7 0zM289.83 195.33a1.35 1.35 0 1 0 2.7 0a1.35 1.35 0 1 0 -2.7 0zM291.49 195.43a1.35 1.35 0 1 0 2.7 0a1.35 1.35 0 1 0 -2.7 0zM293.12 195.53a1.35 1.35 0 1 0 2.7 0a1.35 1.35 0 1 0 -2.7 0zM294.71 195.63a1.35 1.35 0 1 0 2.7 0a1.35 1.35 0 1 0 -2.7 0zM296.27 195.74a1.35 1.35 0 1 0 2.7 0a1.35 1.35 0 1 0 -2.7 0zM297.8 195.84a1.35 1.35 0 1 0 2.7 0a1.35 1.35 0 1 0 -2.7 0zM299.29 195.94a1.35 1.35 0 1 0 2.7 0a1.35 1.35 0 1 0 -2.7 0zM300.76 196.05a1.35 1.35 0 1 0 2.7 0a1.35 1.35 0 1 0 -2.7 0zM302.2 196.16a1.35 1.35 0 1 0 2.7 0a1.35 1.35 0 1 0 -2.7 0zM303.61 196.28a1.35 1.35 0 1 0 2.7 0a1.35 1.35 0 1 0 -2.7 0zM305 196.39a1.35 1.35 0 1 0 2.7 0a1.35 1.35 0 1 0 -2.7 0zM306.36 196.51a1.35 1.35 0 1 0 2.7 0a1.35 1.35 0 1 0 -2.7 0zM307.7 196.63a1.35 1.35 0 1 0 2.7 0a1.35 1.35 0 1 0 -2.7 0zM309.01 196.75a1.35 1.35 0 1 0 2.7 0a1.35 1.35 0 1 0 -2.7 0zM310.31 196.87a1.35 1.35 0 1 0 2.7 0a1.35 1.35 0 1 0 -2.7 0zM311.58 196.99a1.35 1.35 0 1 0 2.7 0a1.35 1.35 0 1 0 -2.7 0zM312.83 197.12a1.35 1.35 0 1 0 2.7 0a1.35 1.35 0 1 0 -2.7 0zM314.06 197.24a1.35 1.35 0 1 0 2.7 0a1.35 1.35 0 1 0 -2.7 0zM315.27 197.36a1.35 1.35 0 1 0 2.7 0a1.35 1.35 0 1 0 -2.7 0zM316.46 197.49a1.35 1.35 0 1 0 2.7 0a1.35 1.35 0 1 0 -2.7 0zM317.63 197.61a1.35 1.35 0 1 0 2.7 0a1.35 1.35 0 1 0 -2.7 0zM318.78 197.73a1.35 1.35 0 1 0 2.7 0a1.35 1.35 0 1 0 -2.7 0zM319.92 197.85a1.35 1.35 0 1 0 2.7 0a1.35 1.35 0 1 0 -2.7 0zM321.04 197.97a1.35 1.35 0 1 0 2.7 0a1.35 1.35 0 1 0 -2.7 0zM322.14 198.09a1.35 1.35 0 1 0 2.7 0a1.35 1.35 0 1 0 -2.7 0zM323.23 198.21a1.35 1.35 0 1 0 2.7 0a1.35 1.35 0 1 0 -2.7 0zM324.3 198.32a1.35 1.35 0 1 0 2.7 0a1.35 1.35 0 1 0 -2.7 0zM325.36 198.44a1.35 1.35 0 1 0 2.7 0a1.35 1.35 0 1 0 -2.7 0zM326.4 198.55a1.35 1.35 0 1 0 2.7 0a1.35 1.35 0 1 0 -2.7 0zM327.43 198.67a1.35 1.35 0 1 0 2.7 0a1.35 1.35 0 1 0 -2.7 0zM328.44 198.78a1.35 1.35 0 1 0 2.7 0a1.35 1.35 0 1 0 -2.7 0zM329.44 198.89a1.35 1.35 0 1 0 2.7 0a1.35 1.35 0 1 0 -2.7 0zM330.43 199a1.35 1.35 0 1 0 2.7 0a1.35 1.35 0 1 0 -2.7 0zM331.41 199.11a1.35 1.35 0 1 0 2.7 0a1.35 1.35 0 1 0 -2.7 0zM332.37 199.21a1.35 1.35 0 1 0 2.7 0a1.35 1.35 0 1 0 -2.7 0zM333.32 199.32a1.35 1.35 0 1 0 2.7 0a1.35 1.35 0 1 0 -2.7 0zM334.26 199.43a1.35 1.35 0 1 0 2.7 0a1.35 1.35 0 1 0 -2.7 0zM335.19 199.54a1.35 1.35 0 1 0 2.7 0a1.35 1.35 0 1 0 -2.7 0zM336.1 199.65a1.35 1.35 0 1 0 2.7 0a1.35 1.35 0 1 0 -2.7 0zM337.01 199.75a1.35 1.35 0 1 0 2.7 0a1.35 1.35 0 1 0 -2.7 0zM337.9 199.86a1.35 1.35 0 1 0 2.7 0a1.35 1.35 0 1 0 -2.7 0zM338.79 199.97a1.35 1.35 0 1 0 2.7 0a1.35 1.35 0 1 0 -2.7 0zM339.66 200.07a1.35 1.35 0 1 0 2.7 0a1.35 1.35 0 1 0 -2.7 0zM340.52 200.18a1.35 1.35 0 1 0 2.7 0a1.35 1.35 0 1 0 -2.7 0zM341.38 200.28a1.35 1.35 0 1 0 2.7 0a1.35 1.35 0 1 0 -2.7 0zM342.22 200.39a1.35 1.35 0 1 0 2.7 0a1.35 1.35 0 1 0 -2.7 0zM343.06 200.49a1.35 1.35 0 1 0 2.7 0a1.35 1.35 0 1 0 -2.7 0zM343.88 200.6a1.35 1.35 0 1 0 2.7 0a1.35 1.35 0 1 0 -2.7 0zM344.7 200.7a1.35 1.35 0 1 0 2.7 0a1.35 1.35 0 1 0 -2.7 0zM345.51 200.8a1.35 1.35 0 1 0 2.7 0a1.35 1.35 0 1 0 -2.7 0zM346.31 200.91a1.35 1.35 0 1 0 2.7 0a1.35 1.35 0 1 0 -2.7 0zM347.1 201.01a1.35 1.35 0 1 0 2.7 0a1.35 1.35 0 1 0 -2.7 0zM347.88 201.11a1.35 1.35 0 1 0 2.7 0a1.35 1.35 0 1 0 -2.7 0zM348.66 201.21a1.35 1.35 0 1 0 2.7 0a1.35 1.35 0 1 0 -2.7 0zM349.43 201.31a1.35 1.35 0 1 0 2.7 0a1.35 1.35 0 1 0 -2.7 0zM350.19 201.41a1.35 1.35 0 1 0 2.7 0a1.35 1.35 0 1 0 -2.7 0zM350.94 201.51a1.35 1.35 0 1 0 2.7 0a1.35 1.35 0 1 0 -2.7 0zM351.68 201.61a1.35 1.35 0 1 0 2.7 0a1.35 1.35 0 1 0 -2.7 0zM352.42 201.71a1.35 1.35 0 1 0 2.7 0a1.35 1.35 0 1 0 -2.7 0zM353.15 201.81a1.35 1.35 0 1 0 2.7 0a1.35 1.35 0 1 0 -2.7 0zM353.87 201.91a1.35 1.35 0 1 0 2.7 0a1.35 1.35 0 1 0 -2.7 0zM354.59 202.01a1.35 1.35 0 1 0 2.7 0a1.35 1.35 0 1 0 -2.7 0zM355.3 202.1a1.35 1.35 0 1 0 2.7 0a1.35 1.35 0 1 0 -2.7 0zM356 202.2a1.35 1.35 0 1 0 2.7 0a1.35 1.35 0 1 0 -2.7 0zM356.7 202.3a1.35 1.35 0 1 0 2.7 0a1.35 1.35 0 1 0 -2.7 0zM357.39 202.39a1.35 1.35 0 1 0 2.7 0a1.35 1.35 0 1 0 -2.7 0z" fill="#006400"/>
<path d="M261.66 194.05a1.35 1.35 0 1 0 2.7 0a1.35 1.35 0 1 0 -2.7 0zM264.06 194.08a1.35 1.35 0 1 0 2.7 0a1.35 1.35 0 1 0 -2.7 0zM266.39 194.11a1.35 1.35 0 1 0 2.7 0a1.35 1.35 0 1 0 -2.7 0zM268.64 194.14a1.35 1.35 0 1 0 2.7 0a1.35 1.35 0 1 0 -2.7 0zM270.83 194.17a1.35 1.35 0 1 0 2.7 0a1.35 1.35 0 1 0 -2.7 0zM272.96 194.2a1.35 1.35 0 1 0 2.7 0a1.35 1.35 0 1 0 -2.7 0zM275.03 194.24a1.35 1.35 0 1 0 2.7 0a1.35 1.35 0 1 0 -2.7 0zM277.05 194.27a1.35 1.35 0 1 0 2.7 0a1.35 1.35 0 1 0 -2.7 0zM279.01 194.31a1.35 1.35 0 1 0 2.7 0a1.35 1.35 0 1 0 -2.7 0zM280.93 194.35a1.35 1.35 0 1 0 2.7 0a1.35 1.35 0 1 0 -2.7 0zM282.8 194.39a1.35 1.35 0 1 0 2.7 0a1.35 1.35 0 1 0 -2.7 0zM284.62 194.44a1.35 1.35 0 1 0 2.7 0a1.35 1.35 0 1 0 -2.7 0zM286.4 194.48a1.35 1.35 0 1 0 2.7 0a1.35 1.35 0 1 0 -2.7 0zM288.13 194.54a1.35 1.35 0 1 0 2.7 0a1.35 1.35 0 1 0 -2.7 0zM289.83 194.59a1.35 1.35 0 1 0 2.7 0a1.35 1.35 0 1 0 -2.7 0zM291.49 194.64a1.35 1.35 0 1 0 2.7 0a1.35 1.35 0 1 0 -2.7 0zM293.12 194.7a1.35 1.35 0 1 0 2.7 0a1.35 1.35 0 1 0 -2.7 0zM294.71 194.75a1.35 1.35 0 1 0 2.7 0a1.35 1.35 0 1 0 -2.7 0zM296.27 194.81a1.35 1.35 0 1 0 2.7 0a1.35 1.35 0 1 0 -2.7 0zM297.8 194.87a1.35 1.35 0 1 0 2.7 0a1.35 1.35 0 1 0 -2.7 0zM299.29 194.93a1.35 1.35 0 1 0 2.7 0a1.35 1.35 0 1 0 -2.7 0zM300.76 194.98a1.35 1.35 0 1 0 2.7 0a1.35 1.35 0 1 0 -2.7 0zM302.2 195.05a1.35 1.35 0 1 0 2.7 0a1.35 1.35 0 1 0 -2.7 0zM303.61 195.11a1.35 1.35 0 1 0 2.7 0a1.35 1.35 0 1 0 -2.7 0zM305 195.17a1.35 1.35 0 1 0 2.7 0a1.35 1.35 0 1 0 -2.7 0zM306.36 195.24a1.35 1.35 0 1 0 2.7 0a1.35 1.35 0 1 0 -2.7 0zM307.7 195.31a1.35 1.35 0 1 0 2.7 0a1.35 1.35 0 1 0 -2.7 0zM309.01 195.38a1.35 1.35 0 1 0 2.7 0a1.35 1.35 0 1 0 -2.7 0zM310.31 195.44a1.35 1.35 0 1 0 2.7 0a1.35 1.35 0 1 0 -2.7 0zM311.58 195.51a1.35 1.35 0 1 0 2.7 0a1.35 1.35 0 1 0 -2.7 0zM312.83 195.58a1.35 1.35 0 1 0 2.7 0a1.35 1.35 0 1 0 -2.7 0zM314.06 195.65a1.35 1.35 0 1 0 2.7 0a1.35 1.35 0 1 0 -2.7 0zM315.27 195.72a1.35 1.35 0 1 0 2.7 0a1.35 1.35 0 1 0 -2.7 0zM316.46 195.8a1.35 1.35 0 1 0 2.7 0a1.35 1.35 0 1 0 -2.7 0zM317.63 195.87a1.35 1.35 0 1 0 2.7 0a1.35 1.35 0 1 0 -2.7 0zM318.78 195.94a1.35 1.35 0 1 0 2.7 0a1.35 1.35 0 1 0 -2.7 0zM319.92 196.01a1.35 1.35 0 1 0 2.7 0a1.35 1.35 0 1 0 -2.7 0zM321.04 196.08a1.35 1.35 0 1 0 2.7 0a1.35 1.35 0 1 0 -2.7 0zM322.14 196.15a1.35 1.35 0 1 0 2.7 0a1.35 1.35 0 1 0 -2.7 0zM323.23 196.22a1.35 1.35 0 1 0 2.7 0a1.35 1.35 0 1 0 -2.7 0zM324.3 196.29a1.35 1.35 0 1 0 2.7 0a1.35 1.35 0 1 0 -2.7 0zM325.36 196.36a1.35 1.35 0 1 0 2.7 0a1.35 1.35 0 1 0 -2.7 0zM326.4 196.44a1.35 1.35 0 1 0 2.7 0a1.35 1.35 0 1 0 -2.7 0zM327.43 196.51a1.35 1.35 0 1 0 2.7 0a1.35 1.35 0 1 0 -2.7 0zM328.44 196.57a1.35 1.35 0 1 0 2.7 0a1.35 1.35 0 1 0 -2.7 0zM329.44 196.64a1.35 1.35 0 1 0 2.7 0a1.35 1.35 0 1 0 -2.7 0zM330.43 196.71a1.35 1.35 0 1 0 2.7 0a1.35 1.35 0 1 0 -2.7 0zM331.41 196.78a1.35 1.35 0 1 0 2.7 0a1.35 1.35 0 1 0 -2.7 0zM332.37 196.85a1.35 1.35 0 1 0 2.7 0a1.35 1.35 0 1 0 -2.7 0zM333.32 196.92a1.35 1.35 0 1 0 2.7 0a1.35 1.35 0 1 0 -2.7 0zM334.26 196.98a1.35 1.35 0 1 0 2.7 0a1.35 1.35 0 1 0 -2.7 0zM335.19 197.05a1.35 1.35 0 1 0 2.7 0a1.35 1.35 0 1 0 -2.7 0zM336.1 197.12a1.35 1.35 0 1 0 2.7 0a1.35 1.35 0 1 0 -2.7 0zM337.01 197.18a1.35 1.35 0 1 0 2.7 0a1.35 1.35 0 1 0 -2.7 0zM337.9 197.25a1.35 1.35 0 1 0 2.7 0a1.35 1.35 0 1 0 -2.7 0zM338.79 197.31a1.35 1.35 0 1 0 2.7 0a1.35 1.35 0 1 0 -2.7 0zM339.66 197.37a1.35 1.35 0 1 0 2.7 0a1.35 1.35 0 1 0 -2.7 0zM340.52 197.44a1.35 1.35 0 1 0 2.7 0a1.35 1.35 0 1 0 -2.7 0zM341.38 197.5a1.35 1.35 0 1 0 2.7 0a1.35 1.35 0 1 0 -2.7 0zM342.22 197.57a1.35 1.35 0 1 0 2.7 0a1.35 1.35 0 1 0 -2.7 0zM343.06 197.63a1.35 1.35 0 1 0 2.7 0a1.35 1.35 0 1 0 -2.7 0zM343.88 197.7a1.35 1.35 0 1 0 2.7 0a1.35 1.35 0 1 0 -2.7 0zM344.7 197.76a1.35 1.35 0 1 0 2.7 0a1.35 1.35 0 1 0 -2.7 0zM345.51 197.82a1.35 1.35 0 1 0 2.7 0a1.35 1.35 0 1 0 -2.7 0zM346.31 197.89a1.35 1.35 0 1 0 2.7 0a1.35 1.35 0 1 0 -2.7 0zM347.1 197.95a1.35 1.35 0 1 0 2.7 0a1.35 1.35 0 1 0 -2.7 0zM347.88 198.02a1.35 1.35 0 1 0 2.7 0a1.35 1.35 0 1 0 -2.7 0zM348.66 198.08a1.35 1.35 0 1 0 2.7 0a1.35 1.35 0 1 0 -2.7 0zM349.43 198.15a1.35 1.35 0 1 0 2.7 0a1.35 1.35 0 1 0 -2.7 0zM350.19 198.21a1.35 1.35 0 1 0 2.7 0a1.35 1.35 0 1 0 -2.7 0zM350.94 198.28a1.35 1.35 0 1 0 2.7 0a1.35 1.35 0 1 0 -2.7 0zM351.68 198.34a1.35 1.35 0 1 0 2.7 0a1.35 1.35 0 1 0 -2.7 0zM352.42 198.4a1.35 1.35 0 1 0 2.7 0a1.35 1.35 0 1 0 -2.7 0zM353.15 198.47a1.35 1.35 0 1 0 2.7 0a1.35 1.35 0 1 0 -2.7 0zM353.87 198.53a1.35 1.35 0 1 0 2.7 0a1.35 1.35 0 1 0 -2.7 0zM354.59 198.59a1.35 1.35 0 1 0 2.7 0a1.35 1.35 0 1 0 -2.7 0zM355.3 198.66a1.35 1.35 0 1 0 2.7 0a1.35 1.35 0 1 0 -2.7 0zM356 198.72a1.35 1.35 0 1 0 2.7 0a1.35 1.35 0 1 0 -2.7 0zM356.7 198.79a1.35 1.35 0 1 0 2.7 0a1.35 1.35 0 1 0 -2.7 0zM357.39 198.85a1.35 1.35 0 1 0 2.7 0a1.35 1.35 0 1 0 -2.7 0zM358.07 198.91a1.35 1.35 0 1 0 2.7 0a1.35 1.35 0 1 0 -2.7 0zM358.75 198.97a1.35 1.35 0 1 0 2.7 0a1.35 1.35 0 1 0 -2.7 0zM359.42 199.04a1.35 1.35 0 1 0 2.7 0a1.35 1.35 0 1 0 -2.7 0zM360.09 199.1a1.35 1.35 0 1 0 2.7 0a1.35 1.35 0 1 0 -2.7 0zM360.75 199.16a1.35 1.35 0 1 0 2.7 0a1.35 1.35 0 1 0 -2.7 0zM361.4 199.22a1.35 1.35 0 1 0 2.7 0a1.35 1.35 0 1 0 -2.7 0zM362.05 199.29a1.35 1.35 0 1 0 2.7 0a1.35 1.35 0 1 0 -2.7 0zM362.7 199.35a1.35 1.35 0 1 0 2.7 0a1.35 1.35 0 1 0 -2.7 0zM363.33 199.41a1.35 1.35 0 1 0 2.7 0a1.35 1.35 0 1 0 -2.7 0zM363.97 199.47a1.35 1.35 0 1 0 2.7 0a1.35 1.35 0 1 0 -2.7 0zM364.59 199.53a1.35 1.35 0 1 0 2.7 0a1.35 1.35 0 1 0 -2.7 0zM365.21 199.59a1.35 1.35 0 1 0 2.7 0a1.35 1.35 0 1 0 -2.7 0zM365.83 199.65a1.35 1.35 0 1 0 2.7 0a1.35 1.35 0 1 0 -2.7 0zM366.44 199.72a1.35 1.35 0 1 0 2.7 0a1.35 1.35 0 1 0 -2.7 0zM367.05 199.78a1.35 1.35 0 1 0 2.7 0a1.35 1.35 0 1 0 -2.7 0zM367.65 199.84a1.35 1.35 0 1 0 2.7 0a1.35 1.35 0 1 0 -2.7 0zM368.25 199.9a1.35 1.35 0 1 0 2.7 0a1.35 1.35 0 1 0 -2.7 0zM368.84 199.96a1.35 1.35 0 1 0 2.7 0a1.35 1.35 0 1 0 -2.7 0zM369.43 200.02a1.35 1.35 0 1 0 2.7 0a1.35 1.35 0 1 0 -2.7 0zM370.01 200.08a1.35 1.35 0 1 0 2.7 0a1.35 1.35 0 1 0 -2.7 0zM370.59 200.13a1.35 1.35 0 1 0 2.7 0a1.35 1.35 0 1 0 -2.7 0zM371.17 200.19a1.35 1.35 0 1 0 2.7 0a1.35 1.35 0 1 0 -2.7 0zM371.74 200.25a1.35 1.35 0 1 0 2.7 0a1.35 1.35 0 1 0 -2.7 0zM372.31 200.31a1.35 1.35 0 1 0 2.7 0a1.35 1.35 0 1 0 -2.7 0zM372.87 200.37a1.35 1.35 0 1 0 2.7 0a1.35 1.35 0 1 0 -2.7 0zM373.42 200.43a1.35 1.35 0 1 0 2.7 0a1.35 1.35 0 1 0 -2.7 0zM373.98 200.49a1.35 1.35 0 1 0 2.7 0a1.35 1.35 0 1 0 -2.7 0zM374.53 200.54a1.35 1.35 0 1 0 2.7 0a1.35 1.35 0 1 0 -2.7 0zM375.07 200.6a1.35 1.35 0 1 0 2.7 0a1.35 1.35 0 1 0 -2.7 0zM375.62 200.66a1.35 1.35 0 1 0 2.7 0a1.35 1.35 0 1 0 -2.7 0zM376.15 200.72a1.35 1.35 0 1 0 2.7 0a1.35 1.35 0 1 0 -2.7 0zM376.69 200.77a1.35 1.35 0 1 0 2.7 0a1.35 1.35 0 1 0 -2.7 0z" fill="#006400"/>
<path d="M221.75 193.6a1.25 1.25 0 1 0 2.5 0a1.25 1.25 0 1 0 -2.5 0zM223.75 193.6a1.25 1.25 0 1 0 2.5 0a1.25 1.25 0 1 0 -2.5 0zM225.75 193.6a1.25 1.25 0 1 0 2.5 0a1.25 1.25 0 1 0 -2.5 0zM227.75 193.6a1.25 1.25 0 1 0 2.5 0a1.25 1.25 0 1 0 -2.5 0zM229.75 193.6a1.25 1.25 0 1 0 2.5 0a1.25 1.25 0 1 0 -2.5 0zM231.75 193.6a1.25 1.25 0 1 0 2.5 0a1.25 1.25 0 1 0 -2.5 0zM233.75 193.6a1.25 1.25 0 1 0 2.5 0a1.25 1.25 0 1 0 -2.5 0zM235.75 193.6a1.25 1.25 0 1 0 2.5 0a1.25 1.25 0 1 0 -2.5 0zM237.75 193.6a1.25 1.25 0 1 0 2.5 0a1.25 1.25 0 1 0 -2.5 0zM239.75 193.6a1.25 1.25 0 1 0 2.5 0a1.25 1.25 0 1 0 -2.5 0zM241.75 193.6a1.25 1.25 0 1 0 2.5 0a1.25 1.25 0 1 0 -2.5 0zM243.75 193.6a1.25 1.25 0 1 0 2.5 0a1.25 1.25 0 1 0 -2.5 0zM245.75 193.6a1.25 1.25 0 1 0 2.5 0a1.25 1.25 0 1 0 -2.5 0zM247.75 193.6a1.25 1.25 0 1 0 2.5 0a1.25 1.25 0 1 0 -2.5 0zM249.75 193.6a1.25 1.25 0 1 0 2.5 0a1.25 1.25 0 1 0 -2.5 0zM251.75 193.6a1.25 1.25 0 1 0 2.5 0a1.25 1.25 0 1 0 -2.5 0zM253.75 193.6a1.25 1.25 0 1 0 2.5 0a1.25 1.25 0 1 0 -2.5 0zM255.75 193.6a1.25 1.25 0 1 0 2.5 0a1.25 1.25 0 1 0 -2.5 0zM257.75 193.6a1.25 1.25 0 1 0 2.5 0a1.25 1.25 0 1 0 -2.5 0zM259.75 193.6a1.25 1.25 0 1 0 2.5 0a1.25 1.25 0 1 0 -2.5 0zM261.75 193.6a1.25 1.25 0 1 0 2.5 0a1.25 1.25 0 1 0 -2.5 0zM263.75 193.6a1.25 1.25 0 1 0 2.5 0a1.25 1.25 0 1 0 -2.5 0zM265.75 193.6a1.25 1.25 0 1 0 2.5 0a1.25 1.25 0 1 0 -2.5 0zM267.75 193.6a1.25 1.25 0 1 0 2.5 0a1.25 1.25 0 1 0 -2.5 0zM269.75 193.6a1.25 1.25 0 1 0 2.5 0a1.25 1.25 0 1 0 -2.5 0z" fill="#ff0000"/>
<path d="M278.8 193.8a1.2 1.2 0 1 0 2.4 0a1.2 1.2 0 1 0 -2.4 0zM287.8 193.8a1.2 1.2 0 1 0 2.4 0a1.2 1.2 0 1 0 -2.4 0zM296.8 193.8a1.2 1.2 0 1 0 2.4 0a1.2 1.2 0 1 0 -2.4 0zM306.5 193.8a1.2 1.2 0 1 0 2.4 0a1.2 1.2 0 1 0 -2.4 0zM315.2 193.8a1.2 1.2 0 1 0 2.4 0a1.2 1.2 0 1 0 -2.4 0zM324.8 193.8a1.2 1.2 0 1 0 2.4 0a1.2 1.2 0 1 0 -2.4 0zM334.4 193.8a1.2 1.2 0 1 0 2.4 0a1.2 1.2 0 1 0 -2.4 0zM345.6 193.8a1.2 1.2 0 1 0 2.4 0a1.2 1.2 0 1 0 -2.4 0zM356.6 193.8a1.2 1.2 0 1 0 2.4 0a1.2 1.2 0 1 0 -2.4 0zM369.1 193.8a1.2 1.2 0 1 0 2.4 0a1.2 1.2 0 1 0 -2.4 0z" fill="#ff0000"/>
<path d="M216.18 193.7a1.4 1.4 0 1 0 2.8 0a1.4 1.4 0 1 0 -2.8 0zM224.59 193.7a1.4 1.4 0 1 0 2.8 0a1.4 1.4 0 1 0 -2.8 0zM232.16 193.7a1.4 1.4 0 1 0 2.8 0a1.4 1.4 0 1 0 -2.8 0zM239.04 193.7a1.4 1.4 0 1 0 2.8 0a1.4 1.4 0 1 0 -2.8 0zM245.35 193.7a1.4 1.4 0 1 0 2.8 0a1.4 1.4 0 1 0 -2.8 0zM251.16 193.7a1.4 1.4 0 1 0 2.8 0a1.4 1.4 0 1 0 -2.8 0zM256.57 193.7a1.4 1.4 0 1 0 2.8 0a1.4 1.4 0 1 0 -2.8 0z" fill="#006400"/>
<path d="M209.51 183.85h4.1v4.1h-4.1zM218.58 174.74h4.1v4.1h-4.1zM226.68 166.6h4.1v4.1h-4.1zM233.99 159.25h4.1v4.1h-4.1zM240.66 152.55h4.1v4.1h-4.1zM246.78 146.39h4.1v4.1h-4.1zM252.45 140.7h4.1v4.1h-4.1zM257.72 135.4h4.1v4.1h-4.1zM262.65 130.45h4.1v4.1h-4.1zM267.27 125.8h4.1v4.1h-4.1zM271.63 121.42h4.1v4.1h-4.1zM275.75 117.28h4.1v4.1h-4.1zM279.66 113.35h4.1v4.1h-4.1zM283.37 109.62h4.1v4.1h-4.1zM286.92 106.06h4.1v4.1h-4.1zM290.3 102.66h4.1v4.1h-4.1zM293.54 99.41h4.1v4.1h-4.1zM296.64 96.29h4.1v4.1h-4.1zM299.62 93.29h4.1v4.1h-4.1zM302.49 90.41h4.1v4.1h-4.1zM305.26 87.63h4.1v4.1h-4.1zM307.92 84.95h4.1v4.1h-4.1zM310.5 82.36h4.1v4.1h-4.1zM312.99 79.86h4.1v4.1h-4.1zM315.4 77.43h4.1v4.1h-4.1zM317.74 75.09h4.1v4.1h-4.1zM320 72.81h4.1v4.1h-4.1zM322.2 70.6h4.1v4.1h-4.1zM324.34 68.45h4.1v4.1h-4.1zM326.42 66.36h4.1v4.1h-4.1zM328.45 64.32h4.1v4.1h-4.1zM330.42 62.34h4.1v4.1h-4.1zM332.34 60.41h4.1v4.1h-4.1z" fill="#006400"/>
<path d="M334.65 59.49h2.7v2.7h-2.7zM337.95 56.18h2.7v2.7h-2.7zM341.25 52.86h2.7v2.7h-2.7zM344.55 49.54h2.7v2.7h-2.7zM347.85 46.23h2.7v2.7h-2.7zM351.15 42.91h2.7v2.7h-2.7zM354.45 39.59h2.7v2.7h-2.7zM357.75 36.28h2.7v2.7h-2.7zM361.05 32.96h2.7v2.7h-2.7zM364.35 29.64h2.7v2.7h-2.7zM367.65 26.33h2.7v2.7h-2.7zM370.95 23.01h2.7v2.7h-2.7zM374.25 19.69h2.7v2.7h-2.7z" fill="none" stroke="#006400" stroke-width="1.35"/>
<path d="M209.99 187.52h2.75v2.75h-2.75zM217.7 182.87h2.75v2.75h-2.75zM225.38 178.18h2.75v2.75h-2.75zM233.07 173.51h2.75v2.75h-2.75zM240.85 168.99h2.75v2.75h-2.75zM248.4 164.08h2.75v2.75h-2.75zM252.16 161.43h2.75v2.75h-2.75zM255.87 158.72h2.75v2.75h-2.75zM259.57 155.98h2.75v2.75h-2.75zM263.26 153.23h2.75v2.75h-2.75zM266.93 150.47h2.75v2.75h-2.75zM270.6 147.69h2.75v2.75h-2.75zM274.27 144.91h2.75v2.75h-2.75zM277.95 142.16h2.75v2.75h-2.75zM281.67 139.46h2.75v2.75h-2.75zM285.37 136.72h2.75v2.75h-2.75zM288.96 133.85h2.75v2.75h-2.75zM291.46 131.77h2.75v2.75h-2.75zM293.94 129.66h2.75v2.75h-2.75zM296.39 127.53h2.75v2.75h-2.75zM298.82 125.38h2.75v2.75h-2.75zM301.25 123.21h2.75v2.75h-2.75zM303.66 121.04h2.75v2.75h-2.75zM306.07 118.85h2.75v2.75h-2.75zM308.47 116.66h2.75v2.75h-2.75zM310.87 114.48h2.75v2.75h-2.75zM313.28 112.3h2.75v2.75h-2.75zM315.7 110.12h2.75v2.75h-2.75zM318.13 107.96h2.75v2.75h-2.75zM320.57 105.81h2.75v2.75h-2.75zM323 103.66h2.75v2.75h-2.75zM325.44 101.51h2.75v2.75h-2.75zM327.88 99.36h2.75v2.75h-2.75zM330.31 97.21h2.75v2.75h-2.75zM332.74 95.06h2.75v2.75h-2.75zM335.18 92.9h2.75v2.75h-2.75zM337.61 90.75h2.75v2.75h-2.75zM340.05 88.6h2.75v2.75h-2.75zM342.48 86.44h2.75v2.75h-2.75zM344.92 84.29h2.75v2.75h-2.75zM347.36 82.14h2.75v2.75h-2.75zM349.8 79.99h2.75v2.75h-2.75zM352.23 77.84h2.75v2.75h-2.75zM354.67 75.7h2.75v2.75h-2.75zM357.11 73.55h2.75v2.75h-2.75zM359.55 71.4h2.75v2.75h-2.75zM361.99 69.25h2.75v2.75h-2.75zM364.43 67.11h2.75v2.75h-2.75zM366.87 64.96h2.75v2.75h-2.75zM369.31 62.81h2.75v2.75h-2.75zM371.75 60.67h2.75v2.75h-2.75zM374.19 58.52h2.75v2.75h-2.75z" fill="none" stroke="#006400" stroke-width="1.2"/>
<path d="M213.69 187.23h2.75v2.75h-2.75zM221.11 183.51h2.75v2.75h-2.75zM228.65 180.05h2.75v2.75h-2.75zM236.01 176.22h2.75v2.75h-2.75zM243.33 172.3h2.75v2.75h-2.75zM250.61 168.31h2.75v2.75h-2.75zM254.44 166.15h2.75v2.75h-2.75zM258.24 163.94h2.75v2.75h-2.75zM262 161.65h2.75v2.75h-2.75zM265.72 159.3h2.75v2.75h-2.75zM269.43 156.94h2.75v2.75h-2.75zM273.15 154.58h2.75v2.75h-2.75zM276.87 152.23h2.75v2.75h-2.75zM280.56 149.84h2.75v2.75h-2.75zM284.19 147.35h2.75v2.75h-2.75zM287.78 144.8h2.75v2.75h-2.75zM291.36 142.25h2.75v2.75h-2.75zM294.93 139.67h2.75v2.75h-2.75zM298.47 137.06h2.75v2.75h-2.75zM301.97 134.39h2.75v2.75h-2.75zM304.52 132.38h2.75v2.75h-2.75zM307.05 130.34h2.75v2.75h-2.75zM309.57 128.29h2.75v2.75h-2.75zM312.08 126.23h2.75v2.75h-2.75zM314.6 124.17h2.75v2.75h-2.75zM317.12 122.12h2.75v2.75h-2.75zM319.65 120.08h2.75v2.75h-2.75zM322.18 118.04h2.75v2.75h-2.75zM324.71 116.01h2.75v2.75h-2.75zM327.25 113.97h2.75v2.75h-2.75zM329.78 111.93h2.75v2.75h-2.75zM332.31 109.89h2.75v2.75h-2.75zM334.84 107.86h2.75v2.75h-2.75zM337.38 105.82h2.75v2.75h-2.75zM339.92 103.79h2.75v2.75h-2.75zM342.46 101.77h2.75v2.75h-2.75zM345.01 99.75h2.75v2.75h-2.75zM347.56 97.73h2.75v2.75h-2.75zM350.1 95.72h2.75v2.75h-2.75zM352.65 93.7h2.75v2.75h-2.75zM355.2 91.68h2.75v2.75h-2.75zM357.74 89.65h2.75v2.75h-2.75zM360.27 87.61h2.75v2.75h-2.75zM362.8 85.57h2.75v2.75h-2.75zM365.32 83.52h2.75v2.75h-2.75zM367.83 81.46h2.75v2.75h-2.75zM370.35 79.4h2.75v2.75h-2.75zM372.85 77.33h2.75v2.75h-2.75zM375.36 75.26h2.75v2.75h-2.75z" fill="none" stroke="#006400" stroke-width="1.2"/>
<path d="M196 194.1h3.6v3.6h-3.6zM199.4 192.8h3.6v3.6h-3.6zM53 341.7h3.6v3.6h-3.6zM104.4 289h3.6v3.6h-3.6zM135.5 257.6h3.6v3.6h-3.6zM157.6 236h3.6v3.6h-3.6zM174.2 219.2h3.6v3.6h-3.6zM188.2 205.2h3.6v3.6h-3.6z" fill="#006400"/>
<path d="M149.6 216.1h2.8v2.8h-2.8zM168.6 208.6h2.8v2.8h-2.8zM170.6 203.4h2.8v2.8h-2.8zM183.6 201.6h2.8v2.8h-2.8zM185.1 195.6h2.8v2.8h-2.8z" fill="none" stroke="#006400" stroke-width="1.1"/>
<path d="M152.7 192.8a1.3 1.3 0 1 0 2.6 0a1.3 1.3 0 1 0 -2.6 0zM172.7 193.5a1.3 1.3 0 1 0 2.6 0a1.3 1.3 0 1 0 -2.6 0zM168.7 198.5a1.3 1.3 0 1 0 2.6 0a1.3 1.3 0 1 0 -2.6 0zM183.4 196.4a1.3 1.3 0 1 0 2.6 0a1.3 1.3 0 1 0 -2.6 0zM188.2 193a1.3 1.3 0 1 0 2.6 0a1.3 1.3 0 1 0 -2.6 0z" fill="#006400"/>
<text transform="translate(232.6 41) scale(0.84 1)" font-size="10.5" fill="#000000" stroke="#000000" stroke-width="0.62" stroke-linejoin="round" textLength="82.62" lengthAdjust="spacing" >Disk Migration</text>
<text transform="translate(218 54.5) scale(0.84 1)" font-size="10.5" fill="#000000" stroke="#000000" stroke-width="0.62" stroke-linejoin="round" textLength="115.12" lengthAdjust="spacing" >Disk<tspan font-size='12.8' dy='0.5'>–</tspan><tspan dy='-0.5'>free Migration</tspan></text>
<path d="M260.3 68.7L264.1 65.5V79.6" fill="none" stroke="#1c1c1c" stroke-width="1.5" stroke-linejoin="round" stroke-linecap="round"/>
<text x="70" y="220.7" font-size="20" fill="#222" text-anchor="middle" >2</text>
<text transform="translate(43.5 238.2) scale(0.84 1)" font-size="10.5" fill="#000000" stroke="#000000" stroke-width="0.62" stroke-linejoin="round" textLength="114.29" lengthAdjust="spacing" >Disk<tspan font-size='12.8' dy='0.5'>–</tspan><tspan dy='-0.5'>free Migration</tspan></text>
<text transform="translate(75.7 98.7) scale(0.84 1)" font-size="10.5" fill="#a0522d" stroke="#a0522d" stroke-width="0.75" stroke-linejoin="round" textLength="88.45" lengthAdjust="spacing" >C/H of Jupiter</text>
<text transform="translate(237.7 152.2) rotate(-43.5) scale(0.84 1)" font-size="11.1" fill="#000000" stroke="#000000" stroke-width="0.7" stroke-linejoin="round" textLength="118.45" lengthAdjust="spacing" >C/O = 0.54 (Solar)</text>
<text transform="translate(214.5 256.1) scale(0.84 1)" font-size="10.5" fill="#ff0000" stroke="#ff0000" stroke-width="0.62" stroke-linejoin="round" textLength="172.62" lengthAdjust="spacing" >Core Accretion + Disk Migration</text>
<text transform="translate(214.5 266.8) scale(0.84 1)" font-size="10.5" fill="#0000ff" stroke="#0000ff" stroke-width="0.62" stroke-linejoin="round" textLength="201.79" lengthAdjust="spacing" >Core Accretion + Disk<tspan font-size='12.8' dy='0.5'>–</tspan><tspan dy='-0.5'>free Migration</tspan></text>
<text transform="translate(214.5 277.5) scale(0.84 1)" font-size="10.5" fill="#006400" stroke="#006400" stroke-width="0.62" stroke-linejoin="round" textLength="206.55" lengthAdjust="spacing" >Grav. Instability + Disk<tspan font-size='12.8' dy='0.5'>–</tspan><tspan dy='-0.5'>free Migration</tspan></text>
<text transform="translate(30.5 367.3) rotate(-90) scale(0.84 1)" font-size="10.6" fill="#a0522d" stroke="#a0522d" stroke-width="0.8" stroke-linejoin="round" textLength="74.4" lengthAdjust="spacing" >HD 209458b</text>
<text transform="translate(30.5 299) rotate(-90) scale(0.86 1)" font-size="10.6" fill="#333" textLength="34.88" lengthAdjust="spacing" >(0.05)</text>
<text transform="translate(109.7 367.5) rotate(-90) scale(0.84 1)" font-size="10.6" fill="#a0522d" stroke="#a0522d" stroke-width="0.8" stroke-linejoin="round" textLength="76.19" lengthAdjust="spacing" >HD 189733b</text>
<text transform="translate(162 363) rotate(-90) scale(0.84 1)" font-size="10.6" fill="#a0522d" stroke="#a0522d" stroke-width="0.8" stroke-linejoin="round" textLength="64.29" lengthAdjust="spacing" >WASP<tspan font-size='12.8' dy='0.5'>–</tspan><tspan dy='-0.5'>12b</tspan></text>
</svg>
</body></html>
